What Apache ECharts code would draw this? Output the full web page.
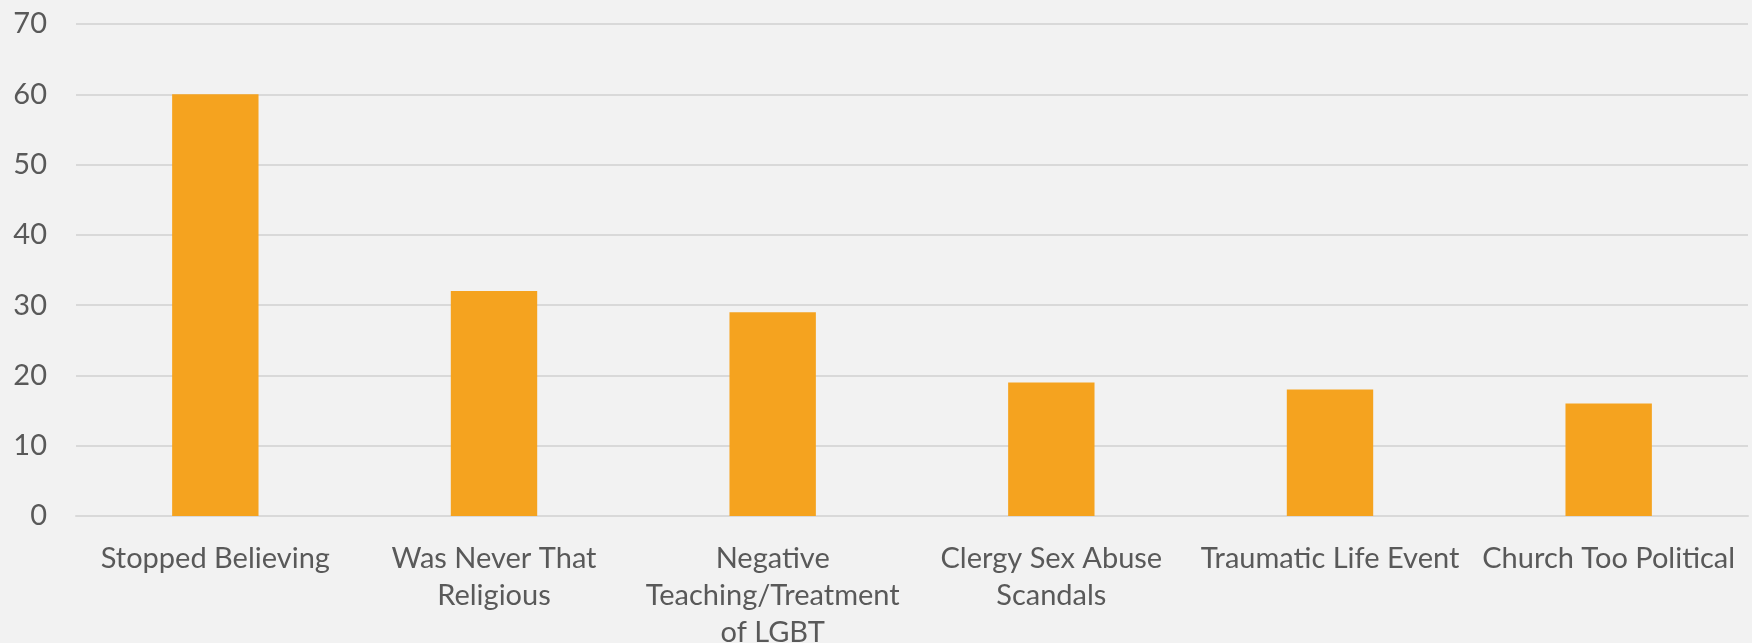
<!DOCTYPE html>
<html>
<head>
<meta charset="utf-8">
<script src="https://cdn.jsdelivr.net/npm/echarts@6/dist/echarts.min.js"></script>
<style>
html,body{margin:0;padding:0;background:#f2f2f2;}
#chart{width:1752px;height:643px;}
</style>
</head>
<body>
<div id="chart"></div>
<script>
const categories = [
  "Stopped Believing",
  "Was Never That\nReligious",
  "Negative\nTeaching/Treatment\nof LGBT",
  "Clergy Sex Abuse\nScandals",
  "Traumatic Life Event",
  "Church Too Political"
];
const values = [60, 32, 29, 19, 18, 16];

const chart = echarts.init(document.getElementById('chart'));
chart.setOption({
  backgroundColor: '#f2f2f2',
  animation: false,
  grid: {left: 76, right: 4, top: 24, bottom: 127, containLabel: false, outerBoundsMode: 'none'},
  xAxis: {
    type: 'category',
    data: categories,
    axisLine: {show: true, lineStyle: {color: '#d9d9d9', width: 2}},
    axisTick: {show: false},
    axisLabel: {
      interval: 0,
      hideOverlap: false,
      color: '#595959',
      fontFamily: 'Lato',
      fontSize: 29,
      lineHeight: 37,
      margin: 24
    }
  },
  yAxis: {
    type: 'value',
    min: 0,
    max: 70,
    interval: 10,
    axisLine: {show: false},
    axisTick: {show: false},
    splitLine: {lineStyle: {color: '#d9d9d9', width: 2}},
    axisLabel: {color: '#595959', fontFamily: 'Lato', fontSize: 29, margin: 29}
  },
  series: [{
    type: 'bar',
    data: values,
    barWidth: '31%',
    itemStyle: {color: '#f5a31f'}
  }]
});
</script>
</body>
</html>
